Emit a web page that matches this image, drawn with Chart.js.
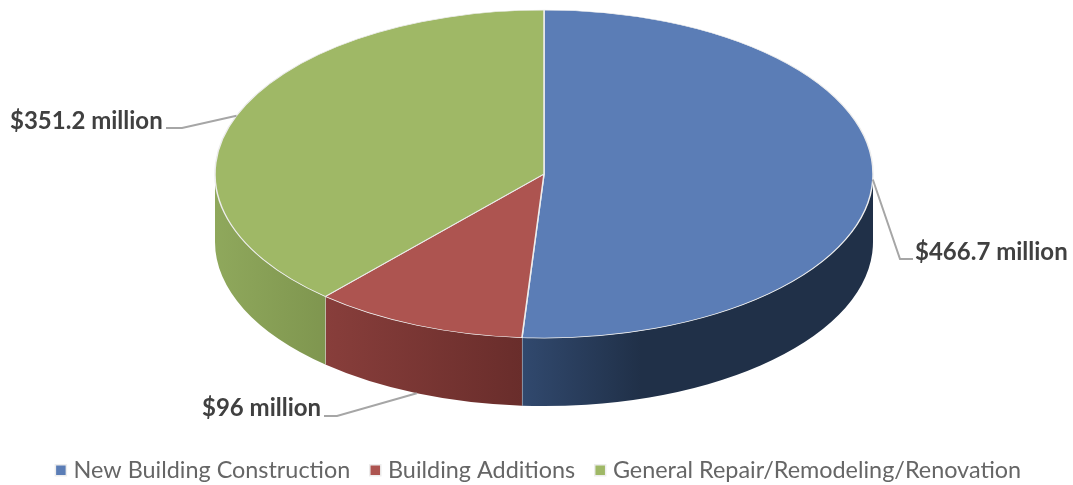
<!DOCTYPE html>
<html>
<head>
<meta charset="utf-8">
<title>Construction spending</title>
<script src="https://cdn.jsdelivr.net/npm/chart.js@4"></script>
<style>
    html, body { margin: 0; padding: 0; background: #fff; }
    canvas { display: block; filter: blur(0.5px); }
</style>
</head>
<body>
<canvas id="pieChart" width="1073" height="485"></canvas>
<script>
// Values
const categories = ['New Building Construction', 'Building Additions', 'General Repair/Remodeling/Renovation'];
const spending = [466.7, 96, 351.2];
const topColors = ['#5B7DB6', '#AD5450', '#9FB866'];

// Fake 3D look: the flat pie gets squashed onto this ellipse, with a wall below it
const pie3d = { cx: 544, cy: 174, rx: 329, ry: 164, depth: 68 };

// Wall shading per slice, left to right over the visible part of the slice
const wallStops = [
    [[0, '#31496E'], [0.34, '#203048'], [1, '#203048']],
    [[0, '#883E3B'], [1, '#692D2B']],
    [[0, '#8FA85C'], [1, '#7F964F']]
];

// Leader line elbow, line end and text spot for every label
const leaders = [
    { elbow: [900, 259], end: [913, 259], textX: 915, textY: 252, wall: false },
    { elbow: [337, 416], end: [324, 416], textX: 202, textY: 408, wall: true },
    { elbow: [182, 128], end: [166, 128], textX: 10, textY: 121, wall: false }
];

const pie3dPlugin = {
    id: 'pie3d',
    beforeDatasetDraw(chart) {
        const ctx = chart.ctx;
        const { cx, cy, rx, ry, depth } = pie3d;

        // walls first, only the front half of the pie can show one
        chart.getDatasetMeta(0).data.forEach((arc, i) => {
            const a0 = Math.max(arc.startAngle, 0);
            const a1 = Math.min(arc.endAngle, Math.PI);
            if (a1 <= a0) return;

            const x0 = cx + rx * Math.cos(a1);
            const x1 = cx + rx * Math.cos(a0);
            const grad = ctx.createLinearGradient(x0, 0, x1, 0);
            wallStops[i].forEach(s => grad.addColorStop(s[0], s[1]));

            ctx.beginPath();
            ctx.ellipse(cx, cy, rx, ry, 0, a0, a1);
            ctx.ellipse(cx, cy + depth, rx, ry, 0, a1, a0, true);
            ctx.closePath();
            ctx.fillStyle = grad;
            ctx.fill();

            // light seam between two walls
            if (a1 < Math.PI) {
                ctx.beginPath();
                ctx.moveTo(x0, cy + ry * Math.sin(a1));
                ctx.lineTo(x0, cy + depth + ry * Math.sin(a1));
                ctx.strokeStyle = '#E4E4E4';
                ctx.lineWidth = 1;
                ctx.stroke();
            }
        });

        const first = chart.getDatasetMeta(0).data[0];
        ctx.save();
        ctx.translate(cx, cy);
        ctx.scale(1, ry / rx);
        ctx.translate(-first.x, -first.y);
    },
    afterDatasetDraw(chart) {
        const ctx = chart.ctx;
        const { cx, cy, rx, ry, depth } = pie3d;
        ctx.restore();

        // leader lines and value labels
        chart.getDatasetMeta(0).data.forEach((arc, i) => {
            const mid = (arc.startAngle + arc.endAngle) / 2;
            const ax = cx + rx * Math.cos(mid);
            const ay = cy + ry * Math.sin(mid) + (leaders[i].wall ? depth : 0);

            ctx.beginPath();
            ctx.moveTo(ax, ay);
            ctx.lineTo(leaders[i].elbow[0], leaders[i].elbow[1]);
            ctx.lineTo(leaders[i].end[0], leaders[i].end[1]);
            ctx.strokeStyle = '#A6A6A6';
            ctx.lineWidth = 2;
            ctx.stroke();

            ctx.font = 'bold 24px Lato';
            ctx.fillStyle = '#404040';
            ctx.textAlign = 'left';
            ctx.textBaseline = 'middle';
            ctx.fillText('$' + spending[i] + ' million', leaders[i].textX, leaders[i].textY);
        });
    }
};

const ctx = document.getElementById('pieChart').getContext('2d');
new Chart(ctx, {
    type: 'pie',
    data: {
        labels: categories,
        datasets: [{
            data: spending,
            backgroundColor: topColors,
            borderColor: '#EDEDED',
            borderWidth: 1.5,
            radius: pie3d.rx,
            clip: false
        }]
    },
    options: {
        responsive: false,
        animation: false,
        layout: { padding: { bottom: -7, left: 8 } },
        plugins: {
            tooltip: { enabled: false },
            legend: {
                position: 'bottom',
                labels: {
                    usePointStyle: true,
                    pointStyle: 'rect',
                    boxWidth: 2,
                    boxHeight: 11,
                    padding: 24,
                    color: '#666666',
                    font: { family: 'Lato', size: 23.4 }
                }
            }
        }
    },
    plugins: [pie3dPlugin]
});
</script>
</body>
</html>
